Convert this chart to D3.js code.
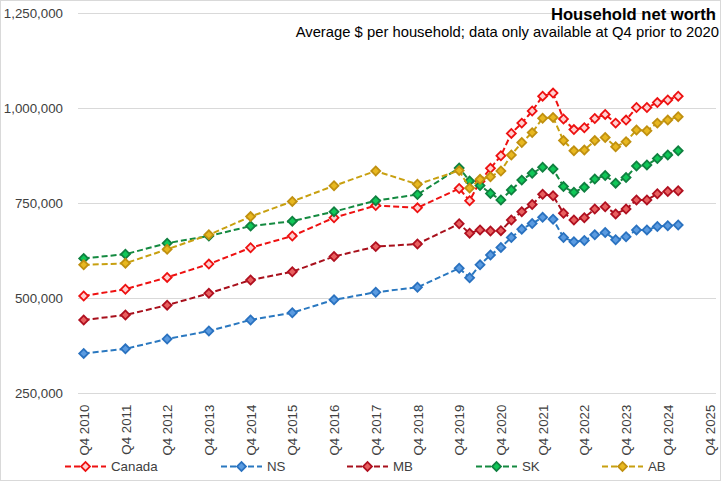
<!DOCTYPE html>
<html>
<head>
<meta charset="utf-8">
<script src="https://cdn.jsdelivr.net/npm/d3@7"></script>
<style>
  body { margin: 0; background: #fff; }
  svg { font-family: "Liberation Sans", Arial, sans-serif; }
</style>
</head>
<body>
<svg id="chart" width="721" height="481"></svg>
<script>
// periods: annual (Q4) until 2019, quarterly afterwards
const periods = [
  "Q4 2010", "Q4 2011", "Q4 2012", "Q4 2013", "Q4 2014", "Q4 2015", "Q4 2016", "Q4 2017", "Q4 2018", "Q4 2019",
  "Q1 2020", "Q2 2020", "Q3 2020", "Q4 2020",
  "Q1 2021", "Q2 2021", "Q3 2021", "Q4 2021",
  "Q1 2022", "Q2 2022", "Q3 2022", "Q4 2022",
  "Q1 2023", "Q2 2023", "Q3 2023", "Q4 2023",
  "Q1 2024", "Q2 2024", "Q3 2024", "Q4 2024",
  "Q1 2025"
];
const canada = [506000, 524000, 555000, 590000, 633000, 664000, 712000, 744000, 738000, 789000,
  757000, 808000, 842000, 875000, 934000, 961000, 993000, 1032000, 1040000, 972000, 944000, 949000,
  973000, 984000, 961000, 969000, 1002000, 1002000, 1015000, 1022000, 1032000];
const ns = [355000, 367000, 393000, 414000, 443000, 462000, 496000, 516000, 529000, 579000,
  554000, 588000, 614000, 634000, 660000, 682000, 697000, 713000, 708000, 660000, 649000, 652000,
  667000, 673000, 654000, 662000, 680000, 680000, 689000, 691000, 693000];
const mb = [443000, 456000, 482000, 513000, 548000, 570000, 610000, 636000, 643000, 696000,
  671000, 680000, 677000, 678000, 706000, 728000, 747000, 774000, 770000, 724000, 706000, 712000,
  735000, 741000, 722000, 735000, 759000, 759000, 775000, 781000, 783000];
const sk = [605000, 616000, 645000, 664000, 690000, 703000, 728000, 757000, 773000, 843000,
  809000, 797000, 776000, 759000, 785000, 811000, 829000, 845000, 840000, 794000, 779000, 792000,
  814000, 823000, 803000, 818000, 848000, 851000, 868000, 877000, 888000];
const ab = [588000, 592000, 629000, 667000, 715000, 755000, 796000, 835000, 800000, 836000,
  790000, 813000, 820000, 835000, 877000, 910000, 936000, 974000, 976000, 915000, 888000, 890000,
  915000, 923000, 899000, 912000, 943000, 941000, 961000, 969000, 978000];

const xTicks = ["Q4 2010", "Q4 2011", "Q4 2012", "Q4 2013", "Q4 2014", "Q4 2015", "Q4 2016", "Q4 2017",
  "Q4 2018", "Q4 2019", "Q4 2020", "Q4 2021", "Q4 2022", "Q4 2023", "Q4 2024", "Q4 2025"];
const yTicks = [250000, 500000, 750000, 1000000, 1250000];

const series = [
  { name: "Canada", values: canada, line: "#ee1111", stroke: "#ee1111", fill: "#ffd0d0" },
  { name: "NS", values: ns, line: "#2a78c0", stroke: "#2a72c0", fill: "#5b9be0" },
  { name: "MB", values: mb, line: "#a8101c", stroke: "#b01020", fill: "#e86060" },
  { name: "SK", values: sk, line: "#148a40", stroke: "#108040", fill: "#10c858" },
  { name: "AB", values: ab, line: "#c8a010", stroke: "#c09010", fill: "#e8b820" }
];

// "Q4 2010" -> 2010.75
function toTime(p) {
  const q = +p.slice(1, 2), y = +p.slice(3);
  return y + (q - 1) / 4;
}

const svg = d3.select("#chart");
const width = +svg.attr("width");
const height = +svg.attr("height");

svg.append("rect")
  .attr("x", 0.5).attr("y", 0.5)
  .attr("width", width - 1).attr("height", height - 1)
  .attr("fill", "#fff").attr("stroke", "#d9d9d9");

const plot = { left: 78, right: 716, top: 13.3, bottom: 393.3 };

const x = d3.scaleLinear()
  .domain([toTime("Q4 2010"), toTime("Q4 2025")])
  .range([plot.left + 5.7, plot.right - 6.5]);
const y = d3.scaleLinear()
  .domain([250000, 1250000])
  .range([plot.bottom, plot.top]);

// gridlines
svg.append("g").selectAll("line").data(yTicks)
  .join("line")
  .attr("x1", plot.left).attr("x2", plot.right)
  .attr("y1", d => Math.round(y(d)) + 0.5).attr("y2", d => Math.round(y(d)) + 0.5)
  .attr("stroke", "#d9d9d9").attr("stroke-width", 1);

// y axis labels
const yAxis = d3.axisLeft(y).tickValues(yTicks).tickSize(0).tickPadding(0)
  .tickFormat(d3.format(","));
svg.append("g")
  .attr("transform", "translate(" + 63 + ",0)")
  .call(yAxis)
  .call(g => g.select(".domain").remove())
  .selectAll("text")
  .attr("font-size", "13.3px")
  .attr("font-family", "Liberation Sans, Arial, sans-serif")
  .attr("fill", "#404040");

// x axis labels (rotated)
const xAxis = d3.axisBottom(x).tickValues(xTicks.map(toTime)).tickSize(0)
  .tickFormat((d, i) => xTicks[i]);
svg.append("g")
  .attr("transform", "translate(0," + plot.bottom + ")")
  .call(xAxis)
  .call(g => g.select(".domain").remove())
  .selectAll("text")
  .attr("font-size", "13.3px")
  .attr("font-family", "Liberation Sans, Arial, sans-serif")
  .attr("fill", "#404040")
  .attr("transform", "rotate(-90)")
  .attr("text-anchor", "end")
  .attr("dx", "-0.85em")
  .attr("dy", "0.35em")
  .attr("x", 0).attr("y", 0);

const line = d3.line()
  .x((d, i) => x(toTime(periods[i])))
  .y(d => y(d));

const diamond = d3.symbol(d3.symbolSquare, 40);

series.forEach(s => {
  const g = svg.append("g");
  g.append("path")
    .attr("d", line(s.values))
    .attr("fill", "none")
    .attr("stroke", s.line)
    .attr("stroke-width", 2)
    .attr("stroke-dasharray", "6,3");
  g.selectAll("path.pt").data(s.values)
    .join("path")
    .attr("class", "pt")
    .attr("d", diamond)
    .attr("transform", (d, i) => "translate(" + x(toTime(periods[i])) + "," + y(d) + ") rotate(45)")
    .attr("fill", s.fill)
    .attr("stroke", s.stroke)
    .attr("stroke-width", 1.8);
});

// legend
const legendX = [65, 221, 347, 476, 602];
const legendY = 466.5;
const leg = svg.append("g").selectAll("g").data(series).join("g")
  .attr("transform", (d, i) => "translate(" + legendX[i] + "," + legendY + ")");
leg.append("line")
  .attr("x1", 0).attr("x2", 41)
  .attr("stroke", d => d.line).attr("stroke-width", 2)
  .attr("stroke-dasharray", "6,3");
leg.append("path")
  .attr("d", diamond)
  .attr("transform", "translate(20.5,0) rotate(45)")
  .attr("fill", d => d.fill)
  .attr("stroke", d => d.stroke)
  .attr("stroke-width", 1.8);
leg.append("text")
  .attr("x", 46).attr("dy", "0.35em")
  .attr("font-size", "13.3px")
  .attr("fill", "#404040")
  .text(d => d.name);

// titles
svg.append("text")
  .attr("x", 716).attr("y", 20)
  .attr("text-anchor", "end")
  .attr("font-size", "16.6px")
  .attr("font-weight", "bold")
  .attr("fill", "#000")
  .text("Household net worth");
svg.append("text")
  .attr("x", 719).attr("y", 37)
  .attr("text-anchor", "end")
  .attr("font-size", "14.8px")
  .attr("fill", "#000")
  .text("Average $ per household; data only available at Q4 prior to 2020");
</script>
</body>
</html>
